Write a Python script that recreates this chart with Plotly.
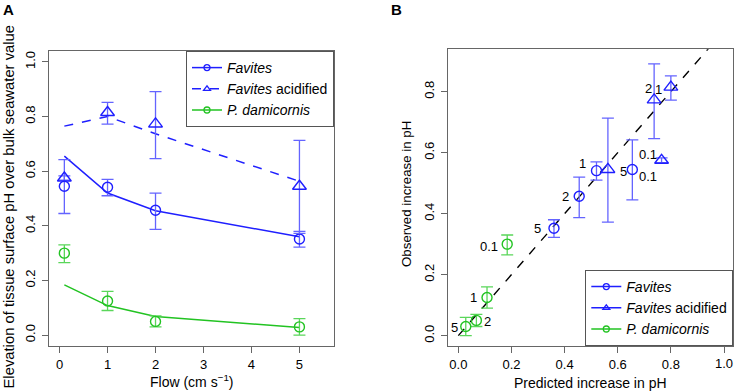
import plotly.graph_objects as go

# ---------------- data ----------------
flow = [0.1, 1, 2, 5]
flow_labels = ["0.1", "1", "2", "5"]

fav_obs = [0.545, 0.541, 0.457, 0.352]
fav_hi = [0.642, 0.570, 0.520, 0.380]
fav_lo = [0.445, 0.510, 0.387, 0.322]
fav_pred = [0.655, 0.520, 0.455, 0.360]

acid_obs = [0.575, 0.815, 0.773, 0.545]
acid_hi = [0.583, 0.852, 0.891, 0.713]
acid_lo = [0.567, 0.772, 0.646, 0.372]
acid_pred = [0.765, 0.800, 0.737, 0.563]

pd_obs = [0.300, 0.125, 0.050, 0.030]
pd_hi = [0.330, 0.160, 0.070, 0.060]
pd_lo = [0.265, 0.090, 0.030, 0.000]
pd_pred = [0.184, 0.108, 0.068, 0.028]

one_to_one = [0, 1]

left_xticks = [0, 1, 2, 3, 4, 5]
left_yticks = [0.0, 0.2, 0.4, 0.6, 0.8, 1.0]
right_xticks = [0.0, 0.2, 0.4, 0.6, 0.8, 1.0]
right_xticklabels = ["0.0", "0.2", "0.4", "0.6", "0.8", "1.0"]
right_yticks = [0.0, 0.2, 0.4, 0.6, 0.8]

# ---------------- styles ----------------
BLUE = "#1f1fff"
BLUE_ERR = "#6464ff"
GREEN = "#22c322"
GREEN_ERR = "#5ad65a"
FONT = "Liberation Sans, Arial, sans-serif"

# label offsets (px) in panel B
fav_off = [(16, -7), (-14, 7), (-14, 0), (-16, 0)]
acid_off = [(-14, 6), (-12, -2), (-6, 11), (16, -2)]
pd_off = [(-18, -2), (-14, 0), (11, -1), (-11, -1)]


def err(hi, obs, lo):
    return dict(type="data", symmetric=False,
                array=[h - o for h, o in zip(hi, obs)],
                arrayminus=[o - l for o, l in zip(obs, lo)])


fig = go.Figure()

# ---- Panel A ----
fig.add_trace(go.Scatter(x=flow, y=fav_pred, mode="lines", line=dict(color=BLUE, width=1.5),
                         showlegend=False, xaxis="x", yaxis="y"))
fig.add_trace(go.Scatter(x=flow, y=acid_pred, mode="lines", line=dict(color=BLUE, width=1.5, dash="dash"),
                         showlegend=False, xaxis="x", yaxis="y"))
fig.add_trace(go.Scatter(x=flow, y=pd_pred, mode="lines", line=dict(color=GREEN, width=1.5),
                         showlegend=False, xaxis="x", yaxis="y"))

for obs, hi, lo, col, ecol, sym, sz in [
    (fav_obs, fav_hi, fav_lo, BLUE, BLUE_ERR, "circle-open", 10),
    (acid_obs, acid_hi, acid_lo, BLUE, BLUE_ERR, "triangle-up-open", 12),
    (pd_obs, pd_hi, pd_lo, GREEN, GREEN_ERR, "circle-open", 10),
]:
    e = err(hi, obs, lo)
    e.update(color=ecol, thickness=1.3, width=6)
    fig.add_trace(go.Scatter(x=flow, y=obs, mode="markers",
                             marker=dict(symbol=sym, size=sz, color=col, line=dict(width=1.4, color=col)),
                             error_y=e, showlegend=False, xaxis="x", yaxis="y"))

# legend entries for panel A
for name, col, dash, sym in [
    ("<i>Favites</i>", BLUE, "solid", "circle-open"),
    ("<i>Favites</i> acidified", BLUE, "dash", "triangle-up-open"),
    ("<i>P. damicornis</i>", GREEN, "solid", "circle-open"),
]:
    fig.add_trace(go.Scatter(x=[None], y=[None], mode="lines+markers", name=name,
                             line=dict(color=col, width=1.5, dash=dash),
                             marker=dict(symbol=sym, size=6, color=col, line=dict(width=1.3, color=col)),
                             legend="legend", xaxis="x", yaxis="y"))

# ---- Panel B ----
fig.add_trace(go.Scatter(x=one_to_one, y=one_to_one, mode="lines",
                         line=dict(color="black", width=1.4, dash="dash"),
                         showlegend=False, xaxis="x2", yaxis="y2"))

for pred, obs, hi, lo, col, ecol, sym, sz in [
    (fav_pred, fav_obs, fav_hi, fav_lo, BLUE, BLUE_ERR, "circle-open", 10),
    (acid_pred, acid_obs, acid_hi, acid_lo, BLUE, BLUE_ERR, "triangle-up-open", 12),
    (pd_pred, pd_obs, pd_hi, pd_lo, GREEN, GREEN_ERR, "circle-open", 10),
]:
    e = err(hi, obs, lo)
    e.update(color=ecol, thickness=1.3, width=6)
    fig.add_trace(go.Scatter(x=pred, y=obs, mode="markers",
                             marker=dict(symbol=sym, size=sz, color=col, line=dict(width=1.4, color=col)),
                             error_y=e, showlegend=False, xaxis="x2", yaxis="y2"))

for name, col, sym in [
    ("<i>Favites</i>", BLUE, "circle-open"),
    ("<i>Favites</i> acidified", BLUE, "triangle-up-open"),
    ("<i>P. damicornis</i>", GREEN, "circle-open"),
]:
    fig.add_trace(go.Scatter(x=[None], y=[None], mode="lines+markers", name=name,
                             line=dict(color=col, width=1.5),
                             marker=dict(symbol=sym, size=6, color=col, line=dict(width=1.3, color=col)),
                             legend="legend2", xaxis="x2", yaxis="y2"))

annotations = []
for pred, obs, offs in [(fav_pred, fav_obs, fav_off), (acid_pred, acid_obs, acid_off), (pd_pred, pd_obs, pd_off)]:
    for p, o, lab, (dx, dy) in zip(pred, obs, flow_labels, offs):
        annotations.append(dict(x=p, y=o, xref="x2", yref="y2", text=lab, showarrow=False,
                                xanchor="center", yanchor="middle",
                                xshift=dx, yshift=dy, font=dict(size=13, color="black", family=FONT)))

W, H = 740, 392


def px(x):
    return x / W


def py(y):
    return 1 - y / H


def label(x, y, text, size, angle=0):
    return dict(x=px(x), y=py(y), xref="paper", yref="paper", text=text, showarrow=False,
                xanchor="center", yanchor="middle", textangle=angle,
                font=dict(size=size, color="black", family=FONT))


annotations += [
    label(8, 10, "<b>A</b>", 15),
    label(397, 10, "<b>B</b>", 15),
    label(191.5, 381, "Flow (cm s<sup>\u22121</sup>)", 14),
    label(590.5, 383, "Predicted increase in pH", 14),
    label(8.5, 207, "Elevation of tissue surface pH over bulk seawater value", 14.8, -90),
    label(406, 194, "Observed increase in pH", 13.3, -90),
]

# last tick label of panel B x axis (plotly drops it at the page edge), placed at its tick value
annotations.append(dict(x=right_xticks[-1], y=py(363), xref="x2", yref="paper", text=right_xticklabels[-1],
                        showarrow=False, xanchor="center", yanchor="middle",
                        font=dict(size=13, color="black", family=FONT)))
right_xticktext = right_xticklabels[:-1] + [""]

axis_common = dict(showline=True, mirror=True, linecolor="#666666", linewidth=1, ticks="outside",
                   ticklen=6, tickcolor="#666666", showgrid=False, zeroline=False,
                   ticklabeloverflow="allow",
                   tickfont=dict(size=13, color="black", family=FONT))

legend_font = dict(size=14, color="black", family=FONT)

fig.update_layout(
    width=W, height=H, margin=dict(l=0, r=0, t=0, b=0),
    paper_bgcolor="white", plot_bgcolor="white",
    font=dict(family=FONT, size=13, color="black"),
    xaxis=dict(domain=[px(49), px(334)], range=[-0.22, 5.72], tickvals=left_xticks,
               anchor="y", **axis_common),
    yaxis=dict(domain=[py(346), py(51)], range=[-0.04, 1.04], tickvals=left_yticks, tickformat=".1f",
               tickangle=-90, ticklabelstandoff=2, anchor="x", **axis_common),
    xaxis2=dict(domain=[px(447.7), px(733.3)], range=[-0.04, 1.035], tickmode="array",
                tickvals=right_xticks, ticktext=right_xticktext,
                anchor="y2", **axis_common),
    yaxis2=dict(domain=[py(346), py(49.3)], range=[-0.034, 0.939], tickvals=right_yticks, tickformat=".1f",
                tickangle=-90, ticklabelstandoff=2, anchor="x2", **axis_common),
    legend=dict(x=px(334), y=py(51), xanchor="right", yanchor="top", bgcolor="white",
                bordercolor="#555555", borderwidth=1, font=legend_font,
                tracegroupgap=0, itemwidth=30),
    legend2=dict(x=px(733.3), y=py(346), xanchor="right", yanchor="bottom", bgcolor="white",
                 bordercolor="#555555", borderwidth=1, font=legend_font,
                 tracegroupgap=0, itemwidth=30),
    annotations=annotations,
    showlegend=True,
)

fig.write_html(
    "out.html", config={"displayModeBar": False},
    post_script="document.body.style.margin='0';document.body.style.overflow='hidden';")
